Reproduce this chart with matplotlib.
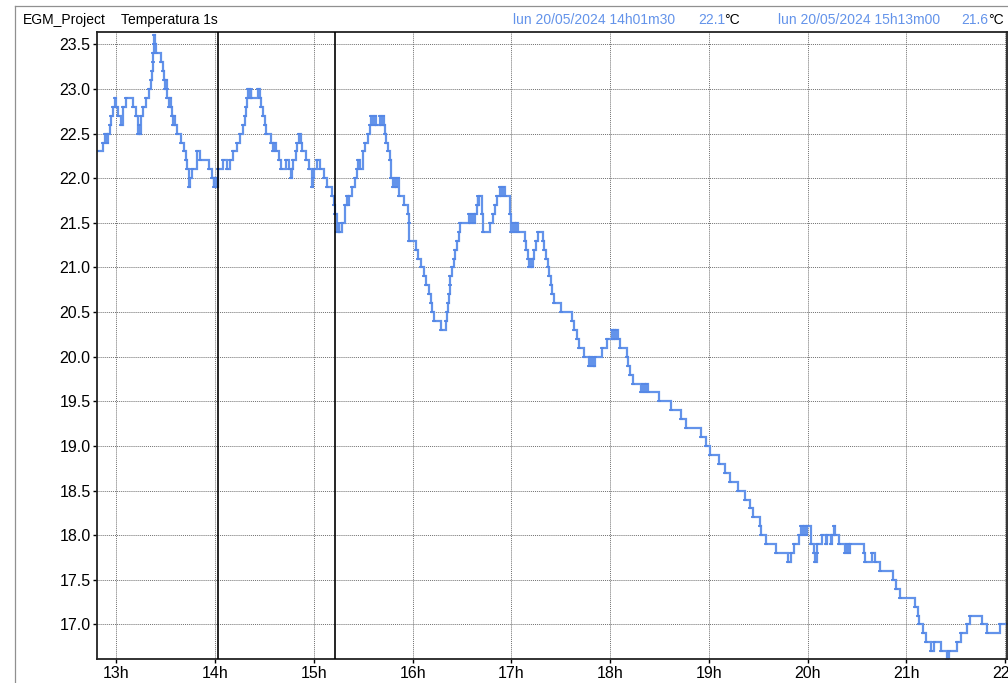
import matplotlib.pyplot as plt
from matplotlib.lines import Line2D
from matplotlib.ticker import FixedLocator, FuncFormatter

plt.rcParams['font.family'] = ['Liberation Sans', 'DejaVu Sans']

# temperature log, one entry per change of the reading
times = [
    '12:48', '12:52', '12:53', '12:54', '12:55', '12:56', '12:57', '12:58', '12:59', '13:00',
    '13:01', '13:03', '13:04', '13:06', '13:10', '13:12', '13:13', '13:14', '13:14:30', '13:15',
    '13:16', '13:18', '13:20', '13:21', '13:21:30', '13:22', '13:22:20', '13:22:40', '13:23', '13:23:30',
    '13:24', '13:27', '13:28', '13:29', '13:29:30', '13:30', '13:30:30', '13:31', '13:32', '13:32:30',
    '13:33', '13:34', '13:34:30', '13:35', '13:35:30', '13:37', '13:39', '13:41', '13:42', '13:43',
    '13:44', '13:45', '13:46', '13:49', '13:51', '13:56', '13:58', '13:59', '13:59:30', '14:00',
    '14:00:30', '14:01', '14:01:30', '14:05', '14:07', '14:09', '14:11', '14:13', '14:15', '14:17',
    '14:18', '14:19', '14:19:30', '14:20', '14:21', '14:21:30', '14:22', '14:26', '14:27', '14:28',
    '14:29', '14:30', '14:31', '14:34', '14:35', '14:35:30', '14:37', '14:39', '14:40', '14:43',
    '14:45', '14:46', '14:46:30', '14:47', '14:49', '14:50', '14:51', '14:52', '14:53', '14:55',
    '14:57', '14:59', '14:59:30', '15:00', '15:02', '15:04', '15:06', '15:08', '15:11', '15:12',
    '15:13', '15:14', '15:15', '15:15:30', '15:17', '15:19', '15:20', '15:21', '15:21:30', '15:23',
    '15:25', '15:26', '15:27', '15:28', '15:30', '15:31', '15:33', '15:34', '15:35', '15:36',
    '15:37', '15:38', '15:40', '15:41', '15:42', '15:42:30', '15:43', '15:44', '15:45', '15:46',
    '15:47', '15:48', '15:49', '15:50', '15:51', '15:52', '15:55', '15:57', '15:57:30', '15:58',
    '16:02', '16:03', '16:05', '16:07', '16:08', '16:10', '16:11', '16:12', '16:13', '16:17',
    '16:20', '16:21', '16:21:30', '16:22', '16:22:30', '16:23', '16:24', '16:25', '16:26', '16:27',
    '16:28', '16:29', '16:34', '16:35', '16:36', '16:37', '16:38', '16:39', '16:39:30', '16:40',
    '16:40:30', '16:42', '16:43', '16:47', '16:49', '16:50', '16:51', '16:53', '16:54', '16:55',
    '16:56', '16:59', '17:00', '17:01', '17:02', '17:03', '17:04', '17:08', '17:09', '17:10',
    '17:11', '17:12', '17:12:30', '17:13', '17:14', '17:15', '17:16', '17:19', '17:20', '17:21',
    '17:22', '17:23', '17:24', '17:25', '17:26', '17:30', '17:37', '17:38', '17:40', '17:41',
    '17:44', '17:47', '17:48', '17:49', '17:50', '17:50:30', '17:51', '17:55', '17:58', '18:01',
    '18:02', '18:02:30', '18:03', '18:03:30', '18:05', '18:06', '18:10', '18:11', '18:12', '18:14',
    '18:19', '18:20', '18:21', '18:22', '18:23', '18:30', '18:37', '18:43', '18:46', '18:55',
    '18:58', '19:01', '19:06', '19:10', '19:13', '19:18', '19:22', '19:25', '19:27', '19:31',
    '19:32', '19:35', '19:41', '19:48', '19:50', '19:52', '19:55', '19:56', '19:57:30', '19:58',
    '19:59', '19:59:30', '20:02', '20:04', '20:04:30', '20:05:30', '20:06', '20:09', '20:11', '20:12',
    '20:14', '20:15', '20:16', '20:16:30', '20:19', '20:23', '20:24', '20:25', '20:26', '20:34',
    '20:35', '20:39', '20:41', '20:44', '20:52', '20:54', '20:56', '21:05', '21:07', '21:08',
    '21:10', '21:12', '21:15', '21:17', '21:21', '21:25', '21:26', '21:31', '21:33', '21:37',
    '21:39', '21:46', '21:49', '21:57', '22:02',
]
temps = [
    22.3, 22.4, 22.5, 22.4, 22.5, 22.6, 22.7, 22.8, 22.9, 22.8,
    22.7, 22.6, 22.8, 22.9, 22.8, 22.7, 22.5, 22.6, 22.5, 22.7,
    22.8, 22.9, 23.0, 23.1, 23.2, 23.3, 23.4, 23.5, 23.6, 23.5,
    23.4, 23.3, 23.2, 23.1, 23.0, 23.1, 23.0, 22.9, 22.8, 22.9,
    22.8, 22.7, 22.6, 22.7, 22.6, 22.5, 22.4, 22.3, 22.2, 22.1,
    21.9, 22.0, 22.1, 22.3, 22.2, 22.1, 22.0, 21.9, 22.0, 21.9,
    22.0, 21.9, 22.1, 22.2, 22.1, 22.2, 22.3, 22.4, 22.5, 22.6,
    22.7, 22.8, 22.9, 23.0, 22.9, 23.0, 22.9, 23.0, 22.9, 22.8,
    22.7, 22.6, 22.5, 22.4, 22.3, 22.4, 22.3, 22.2, 22.1, 22.2,
    22.1, 22.0, 22.1, 22.2, 22.3, 22.4, 22.5, 22.4, 22.3, 22.2,
    22.1, 21.9, 22.0, 22.1, 22.2, 22.1, 22.0, 21.9, 21.8, 21.7,
    21.6, 21.4, 21.5, 21.4, 21.5, 21.7, 21.8, 21.7, 21.8, 21.9,
    22.0, 22.1, 22.2, 22.1, 22.3, 22.4, 22.5, 22.6, 22.7, 22.6,
    22.7, 22.6, 22.7, 22.6, 22.7, 22.6, 22.5, 22.4, 22.3, 22.2,
    22.0, 21.9, 22.0, 21.9, 22.0, 21.8, 21.7, 21.6, 21.5, 21.3,
    21.2, 21.1, 21.0, 20.9, 20.8, 20.7, 20.6, 20.5, 20.4, 20.3,
    20.4, 20.5, 20.6, 20.7, 20.8, 20.9, 21.0, 21.1, 21.2, 21.3,
    21.4, 21.5, 21.6, 21.5, 21.6, 21.5, 21.6, 21.7, 21.8, 21.7,
    21.8, 21.6, 21.4, 21.5, 21.6, 21.7, 21.8, 21.9, 21.8, 21.9,
    21.8, 21.6, 21.4, 21.5, 21.4, 21.5, 21.4, 21.3, 21.2, 21.1,
    21.0, 21.1, 21.0, 21.1, 21.2, 21.3, 21.4, 21.3, 21.2, 21.1,
    21.0, 20.9, 20.8, 20.7, 20.6, 20.5, 20.4, 20.3, 20.2, 20.1,
    20.0, 19.9, 20.0, 19.9, 20.0, 19.9, 20.0, 20.1, 20.2, 20.3,
    20.2, 20.3, 20.2, 20.3, 20.2, 20.1, 20.0, 19.9, 19.8, 19.7,
    19.6, 19.7, 19.6, 19.7, 19.6, 19.5, 19.4, 19.3, 19.2, 19.1,
    19.0, 18.9, 18.8, 18.7, 18.6, 18.5, 18.4, 18.3, 18.2, 18.1,
    18.0, 17.9, 17.8, 17.7, 17.8, 17.9, 18.0, 18.1, 18.0, 18.1,
    18.0, 18.1, 17.9, 17.8, 17.7, 17.8, 17.9, 18.0, 17.9, 18.0,
    17.9, 18.0, 18.1, 18.0, 17.9, 17.8, 17.9, 17.8, 17.9, 17.8,
    17.7, 17.8, 17.7, 17.6, 17.5, 17.4, 17.3, 17.2, 17.1, 17.0,
    16.9, 16.8, 16.7, 16.8, 16.7, 16.6, 16.7, 16.8, 16.9, 17.0,
    17.1, 17.0, 16.9, 17.0, 17.0,
]

# cursor readouts shown in the header
cursors = [('14:01:30', 'lun 20/05/2024 14h01m30', 22.1),
           ('15:13:00', 'lun 20/05/2024 15h13m00', 21.6)]

hour_ticks = list(range(13, 23))
temp_ticks = [17.0 + 0.5 * i for i in range(14)]


def to_hours(s):
    parts = [int(p) for p in s.split(':')]
    while len(parts) < 3:
        parts.append(0)
    return parts[0] + parts[1] / 60 + parts[2] / 3600


x = [to_hours(t) for t in times]
blue = '#6393ea'

fig = plt.figure(figsize=(10.08, 6.83), dpi=100)
# thin frame around the window area
fig.add_artist(Line2D([15 / 1008, 15 / 1008], [0, 1 - 6 / 683], color='#909090', lw=0.9))
fig.add_artist(Line2D([15 / 1008, 1], [1 - 6 / 683, 1 - 6 / 683], color='#909090', lw=0.9))

ax = fig.add_axes([0.0967, 0.0347, 0.9023, 0.918])
ax.step(x, temps, where='post', color=blue, lw=1.6, solid_joinstyle='miter')
# small dash at each reading
ax.plot(x, temps, ls='none', marker='_', ms=3.5, mew=1.3, color='#5587e6')

for ct, _, _ in cursors:
    ax.axvline(to_hours(ct), color='black', lw=1.2, zorder=3)

ax.set_xlim(12.808, 22.02)
ax.set_ylim(16.61, 23.635)
ax.xaxis.set_major_locator(FixedLocator(hour_ticks))
ax.xaxis.set_major_formatter(FuncFormatter(lambda v, p: f'{int(round(v))}h'))
ax.yaxis.set_major_locator(FixedLocator(temp_ticks))
ax.yaxis.set_major_formatter(FuncFormatter(lambda v, p: f'{v:.1f}'))
ax.tick_params(direction='out', length=3, width=1, labelsize=11.5, pad=2, colors='black')
ax.grid(True, color='#707070', ls=(0, (1, 1)), lw=0.7)
ax.set_axisbelow(True)
for sp in ax.spines.values():
    sp.set_linewidth(1.3)
    sp.set_color('#222222')

ytxt = 1 - 20 / 683
fig.text(23 / 1008, ytxt, 'EGM_Project', fontsize=10, va='center')
fig.text(121 / 1008, ytxt, 'Temperatura 1s', fontsize=10, va='center')
pos = [(513, 698, 724), (778, 961, 988)]
for (ct, label, val), (xl, xv, xc) in zip(cursors, pos):
    fig.text(xl / 1008, ytxt, label, fontsize=10, va='center', color=blue)
    fig.text(xv / 1008, ytxt, f'{val:.1f}', fontsize=10, va='center', color=blue)
    fig.text(xc / 1008, ytxt, '°C', fontsize=10, va='center', color='black')

fig.savefig('out.png', dpi=100)
